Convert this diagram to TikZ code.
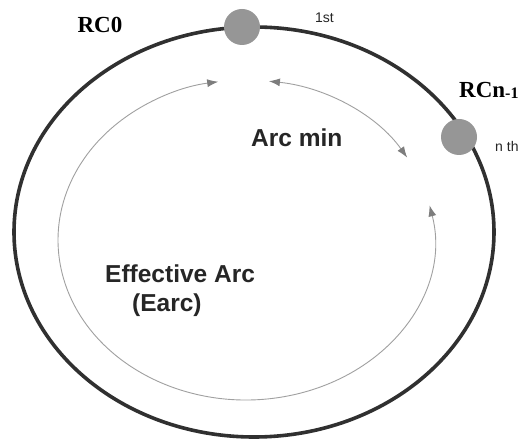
\documentclass[tikz,border=0pt]{standalone}
\usepackage{fontspec}
\setmainfont{Liberation Serif}
\setsansfont{Liberation Sans}
\usetikzlibrary{arrows.meta,calc}
\definecolor{ringcol}{RGB}{48,48,48}
\definecolor{dotcol}{RGB}{150,150,150}
\definecolor{arccol}{RGB}{160,160,160}
\definecolor{tipcol}{RGB}{125,125,125}
\tikzset{
  ring/.style={draw=ringcol, line width=3.6pt},
  dot/.style={circle, fill=dotcol, minimum size=36pt, inner sep=0pt},
  arcline/.style={draw=arccol, line width=0.9pt,
    {Latex[length=11pt,width=8pt,color=tipcol]}-{Latex[length=11pt,width=8pt,color=tipcol]}},
  rclabel/.style={font=\fontsize{23}{26}\selectfont\bfseries, inner sep=0pt, text=black},
  biglabel/.style={font=\sffamily\bfseries\fontsize{24.5}{29}\selectfont, inner sep=0pt, text=black!85},
  smalllabel/.style={font=\sffamily\fontsize{14}{16}\selectfont, inner sep=0pt, text=black!85}
}
\begin{document}
\begin{tikzpicture}[x=1pt,y=1pt]
\useasboundingbox (0,-443) rectangle (528,0);
\fill[white] (0,-443) rectangle (528,0);
% outer ring
\coordinate (oc) at (254,-232);
\draw[ring] (oc) ellipse [x radius=240, y radius=205];
% inner arcs
\coordinate (ic) at (246,-240);
\draw[arcline] ($(ic)+(83:188 and 160)$) arc [start angle=83, end angle=31, x radius=188, y radius=160];
\draw[arcline] ($(ic)+(12.5:188 and 160)$) arc [start angle=12.5, end angle=-261.5, x radius=188, y radius=160];
% nodes on ring
\node[dot] (rc0dot) at (242,-27) {};
\node[dot] (rcndot) at (459,-137) {};
% labels
\node[rclabel, anchor=base] (rc0) at (100,-33) {RC0};
\node[rclabel, anchor=base west] (rcn) at (459,-98) {RCn\raisebox{-1pt}{\fontsize{16}{17}\selectfont -1}};
\node[smalllabel, anchor=base west] (first) at (315,-23) {1st};
\node[smalllabel, anchor=base west] (nth) at (495,-152) {n th};
\node[biglabel, anchor=base west] (arcmin) at (251,-147) {Arc min};
\node[biglabel, anchor=base west] (eff) at (105,-283) {Effective Arc};
\node[biglabel, anchor=base west] (earc) at (132,-312) {(Earc)};
\end{tikzpicture}
\end{document}
